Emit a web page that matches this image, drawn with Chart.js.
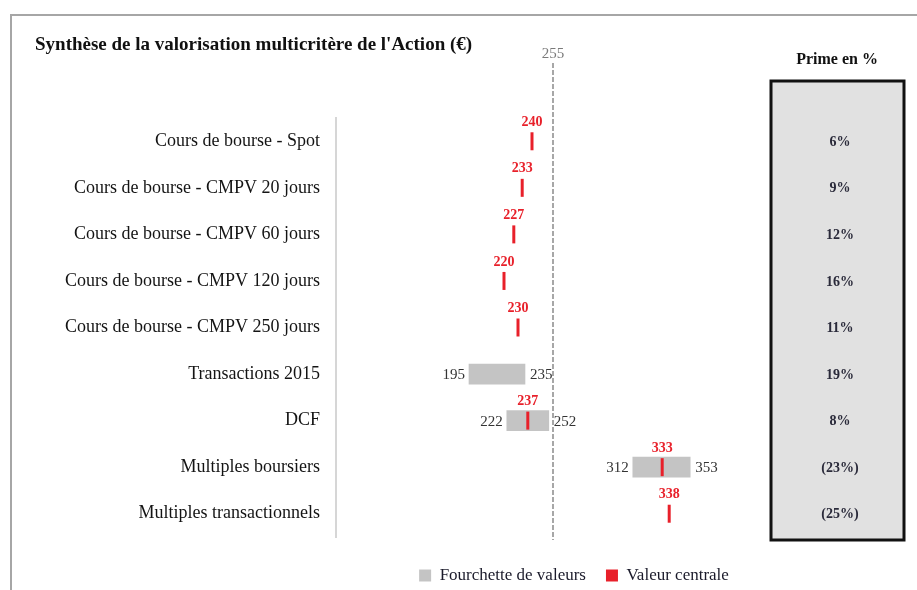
<!DOCTYPE html>
<html>
<head>
<meta charset="utf-8">
<script src="https://cdn.jsdelivr.net/npm/chart.js@4/dist/chart.umd.min.js"></script>
<style>
  html, body { margin: 0; padding: 0; background: #fff; }
  #wrap { width: 917px; height: 590px; }
</style>
</head>
<body>
<div id="wrap"><canvas id="chart"></canvas></div>
<script>
// valuation methods (one row each)
const methods = [
  'Cours de bourse - Spot',
  'Cours de bourse - CMPV 20 jours',
  'Cours de bourse - CMPV 60 jours',
  'Cours de bourse - CMPV 120 jours',
  'Cours de bourse - CMPV 250 jours',
  'Transactions 2015',
  'DCF',
  'Multiples boursiers',
  'Multiples transactionnels'
];
// low / high end of the value range (null = no range)
const lowValues = [null, null, null, null, null, 195, 222, 312, null];
const highValues = [null, null, null, null, null, 235, 252, 353, null];
// central value (null = none)
const centralValues = [240, 233, 227, 220, 230, null, 237, 333, 338];
// premium offered by the price
const primes = ['6%', '9%', '12%', '16%', '11%', '19%', '8%', '(23%)', '(25%)'];
const offerPrice = 255;

const SERIF = '"Liberation Serif", "DejaVu Serif", serif';
const RED = '#e8202a';

const rangeData = methods.map((_, i) => lowValues[i] == null ? null : [lowValues[i], highValues[i]]);

//Draws labels, the 255 line, title, frame and the premium box
const extras = {
  id: 'extras',
  beforeDraw(chart) {
    const ctx = chart.ctx;
    ctx.save();
    ctx.strokeStyle = '#a6a6a6';
    ctx.lineWidth = 2;
    ctx.beginPath();
    ctx.moveTo(11, 590);
    ctx.lineTo(11, 15);
    ctx.lineTo(917, 15);
    ctx.stroke();
    ctx.restore();
  },
  afterDatasetsDraw(chart) {
    const ctx = chart.ctx;
    const xs = chart.scales.x;
    const ys = chart.scales.y;
    ctx.save();

    // title
    ctx.fillStyle = '#111';
    ctx.font = 'bold 19px ' + SERIF;
    ctx.textAlign = 'left';
    ctx.textBaseline = 'middle';
    ctx.fillText("Synthèse de la valorisation multicritère de l'Action (€)", 35, 45);

    // reference line at the offer price
    const px = xs.getPixelForValue(offerPrice);
    ctx.strokeStyle = '#8a8a8a';
    ctx.lineWidth = 1.5;
    ctx.setLineDash([5, 2]);
    ctx.beginPath();
    ctx.moveTo(px, 63);
    ctx.lineTo(px, 540);
    ctx.stroke();
    ctx.setLineDash([]);
    ctx.fillStyle = '#7a7a7a';
    ctx.font = '15px ' + SERIF;
    ctx.textAlign = 'center';
    ctx.fillText(String(offerPrice), px, 54);

    methods.forEach((m, i) => {
      const y = ys.getPixelForValue(i);
      if (lowValues[i] != null) {
        ctx.fillStyle = '#333';
        ctx.font = '15px ' + SERIF;
        ctx.textAlign = 'right';
        ctx.fillText(String(lowValues[i]), xs.getPixelForValue(lowValues[i]) - 4, y + 1);
        ctx.textAlign = 'left';
        ctx.fillText(String(highValues[i]), xs.getPixelForValue(highValues[i]) + 5, y + 1);
      }
      if (centralValues[i] != null) {
        ctx.fillStyle = RED;
        ctx.font = 'bold 14px ' + SERIF;
        ctx.textAlign = 'center';
        ctx.fillText(String(centralValues[i]), xs.getPixelForValue(centralValues[i]), y - 19);
      }
    });

    // premium box
    ctx.fillStyle = '#e1e1e1';
    ctx.fillRect(771, 81, 133, 459);
    ctx.strokeStyle = '#111';
    ctx.lineWidth = 3;
    ctx.strokeRect(771, 81, 133, 459);
    ctx.fillStyle = '#111';
    ctx.font = 'bold 16px ' + SERIF;
    ctx.textAlign = 'center';
    ctx.fillText('Prime en %', 837, 60);
    ctx.fillStyle = '#2a2a3a';
    ctx.font = 'bold 14px ' + SERIF;
    primes.forEach((p, i) => {
      ctx.fillText(p, 840, ys.getPixelForValue(i) + 1);
    });
    ctx.restore();
  }
};

new Chart(document.getElementById('chart'), {
  type: 'bar',
  plugins: [extras],
  data: {
    labels: methods,
    datasets: [
      {
        label: 'Fourchette de valeurs',
        data: rangeData,
        backgroundColor: '#c4c4c4',
        barThickness: 20,
        order: 1
      },
      {
        type: 'line',
        label: 'Valeur centrale',
        data: centralValues,
        showLine: false,
        backgroundColor: RED,
        borderColor: RED,
        borderWidth: 0,
        pointStyle: 'line',
        pointRadius: 9,
        pointHoverRadius: 9,
        pointRotation: 90,
        pointBorderWidth: 3,
        order: 0
      }
    ]
  },
  options: {
    indexAxis: 'y',
    responsive: true,
    maintainAspectRatio: false,
    animation: false,
    layout: { padding: { left: 0, top: 118, right: 105, bottom: -4 } },
    scales: {
      x: {
        min: 100,
        max: 440,
        grid: { display: false },
        border: { display: false },
        ticks: { display: false },
        afterFit: s => { s.height = 10; }
      },
      y: {
        grid: { display: false },
        border: { display: true, color: '#d6d6d6', width: 2 },
        ticks: {
          color: '#141414',
          padding: 8,
          font: { family: SERIF, size: 18 }
        },
        afterFit: s => { s.width = 336; }
      }
    },
    plugins: {
      title: { display: false },
      tooltip: { enabled: false },
      legend: {
        position: 'bottom',
        fullSize: false,
        labels: {
          color: '#1a1a2a',
          font: { family: SERIF, size: 17 },
          boxWidth: 12,
          boxHeight: 12,
          padding: 20,
          sort: (a, b) => a.datasetIndex - b.datasetIndex
        }
      }
    }
  }
});
</script>
</body>
</html>
